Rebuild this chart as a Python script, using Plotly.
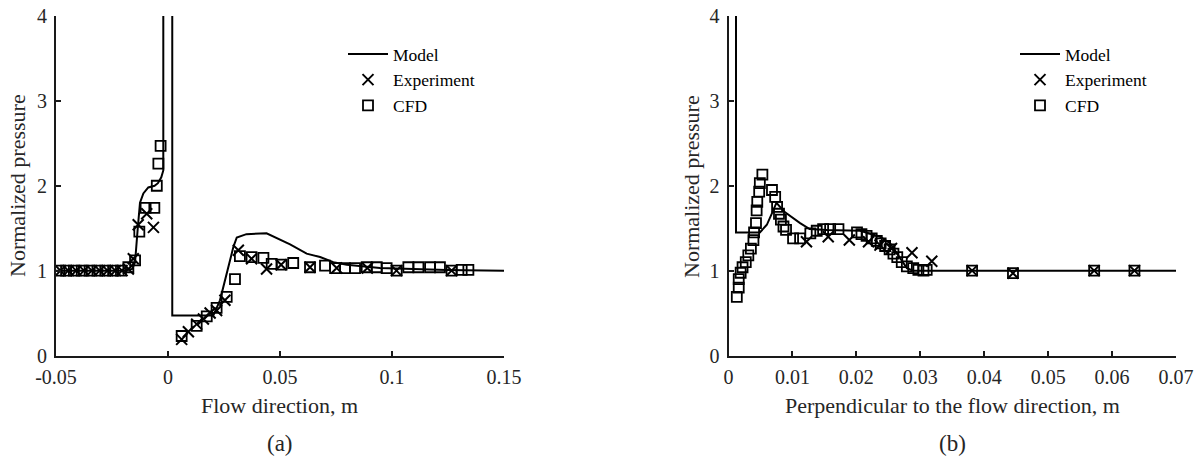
import plotly.graph_objects as go

# ---------------- data: panel (a) flow direction ----------------
model_a_x = [-0.05, -0.02, -0.016, -0.0147, -0.0135, -0.0125, -0.011, -0.0088, -0.006, -0.0045,
             -0.003, -0.0021, -0.0021, 0.0019, 0.0019, 0.0202, 0.0232, 0.0262, 0.0292, 0.0307,
             0.035, 0.044, 0.05, 0.0545, 0.0619, 0.0679, 0.0738, 0.0798, 0.0946, 0.1095, 0.1244, 0.15]
model_a_y = [1.0, 1.0, 1.02, 1.1, 1.5, 1.8, 1.91, 1.98, 2.0, 2.03,
             2.1, 2.18, 60, 60, 0.47, 0.47, 0.65, 0.97, 1.28, 1.39,
             1.43, 1.44, 1.37, 1.31, 1.20, 1.16, 1.10, 1.07, 1.03, 1.015, 1.007, 1.0]

exp_a_x = [-0.048, -0.0445, -0.041, -0.0375, -0.034, -0.0305, -0.027, -0.0235, -0.0205,
           -0.0177, -0.0155, -0.0133, -0.0095, -0.0065,
           0.0061, 0.0091, 0.0128, 0.0158, 0.0188, 0.0217, 0.0254, 0.0314, 0.0373, 0.044, 0.0505,
           0.0634, 0.0753, 0.089, 0.102, 0.1266]
exp_a_y = [1.0, 1.0, 1.0, 1.0, 1.0, 1.0, 1.0, 1.0, 1.0,
           1.02, 1.14, 1.54, 1.67, 1.51,
           0.19, 0.28, 0.37, 0.43, 0.50, 0.53, 0.65, 1.24, 1.14, 1.02, 1.07,
           1.04, 1.03, 1.03, 1.0, 1.0]

cfd_a_x = [-0.0485, -0.0455, -0.042, -0.0385, -0.035, -0.0315, -0.028, -0.0245, -0.021,
           -0.0177, -0.0147, -0.0128, -0.010, -0.0061, -0.005, -0.0043, -0.0033,
           0.0061, 0.0128, 0.0173, 0.0217, 0.0262, 0.0299, 0.0321, 0.0373, 0.0426, 0.0463, 0.0507, 0.0559,
           0.0634, 0.0701, 0.0746, 0.079, 0.0835, 0.0887, 0.0932, 0.0976, 0.1021, 0.1073, 0.1118,
           0.117, 0.1214, 0.1266, 0.1311, 0.1341]
cfd_a_y = [1.0, 1.0, 1.0, 1.0, 1.0, 1.0, 1.0, 1.0, 1.0,
           1.04, 1.12, 1.46, 1.74, 1.74, 2.0, 2.26, 2.47,
           0.23, 0.35, 0.46, 0.56, 0.69, 0.90, 1.17, 1.16, 1.15, 1.08, 1.07, 1.09,
           1.04, 1.06, 1.03, 1.03, 1.03, 1.04, 1.04, 1.03, 1.0, 1.04, 1.04,
           1.04, 1.04, 1.0, 1.01, 1.01]

# ---------------- data: panel (b) perpendicular direction ----------------
model_b_x = [0.00117, 0.00117, 0.0049, 0.006, 0.007, 0.0075, 0.0088, 0.0112, 0.0127, 0.0154,
             0.0206, 0.0237, 0.0253, 0.0268, 0.0279, 0.0289, 0.07]
model_b_y = [60, 1.45, 1.45, 1.54, 1.71, 1.80, 1.69, 1.56, 1.49, 1.48,
             1.47, 1.40, 1.32, 1.16, 1.03, 1.0, 1.0]

exp_b_x = [0.0122, 0.0156, 0.0189, 0.0219, 0.0237, 0.0255, 0.0287, 0.0318,
           0.0381, 0.0445, 0.0572, 0.0635]
exp_b_y = [1.34, 1.40, 1.36, 1.34, 1.30, 1.26, 1.21, 1.11,
           1.0, 0.97, 1.0, 1.0]

cfd_b_x = [0.0013, 0.0016, 0.0016, 0.0019, 0.0022, 0.0027, 0.0031, 0.0035, 0.0039, 0.004,
           0.0043, 0.0044, 0.0045, 0.0048, 0.0049, 0.0053, 0.0068, 0.0073, 0.0076, 0.0079,
           0.0082, 0.0086, 0.009, 0.0101, 0.0112, 0.0128, 0.0138, 0.0148, 0.0159, 0.0172,
           0.0201, 0.0208, 0.0216, 0.0224, 0.0232, 0.0238, 0.0245, 0.0252, 0.0258, 0.0264,
           0.0271, 0.0279, 0.0289, 0.0297, 0.0305, 0.031,
           0.0381, 0.0445, 0.0572, 0.0635]
cfd_b_y = [0.69, 0.80, 0.90, 0.975, 1.04, 1.10, 1.18, 1.26, 1.36, 1.45,
           1.56, 1.71, 1.81, 1.93, 2.03, 2.13, 1.95, 1.87, 1.75, 1.67,
           1.60, 1.52, 1.48, 1.38, 1.38, 1.44, 1.47, 1.49, 1.49, 1.49,
           1.45, 1.43, 1.41, 1.38, 1.35, 1.32, 1.29, 1.25, 1.20, 1.16,
           1.10, 1.05, 1.03, 1.01, 1.0, 1.01,
           1.0, 0.97, 1.0, 1.0]

xa_ticks = [-0.05, 0, 0.05, 0.1, 0.15]
xa_text = ["-0.05", "0", "0.05", "0.1", "0.15"]
xb_ticks = [0, 0.01, 0.02, 0.03, 0.04, 0.05, 0.06, 0.07]
xb_text = ["0", "0.01", "0.02", "0.03", "0.04", "0.05", "0.06", "0.07"]
y_ticks = [0, 1, 2, 3, 4]

FONT = "Liberation Serif"
TXT = "#262626"
AX = "#1a1a1a"
W, H = 1196, 458

line_style = dict(color="black", width=2)
exp_marker = dict(symbol="x-thin-open", size=11, color="black", line=dict(color="black", width=2))
cfd_marker = dict(symbol="square-open", size=10, color="black", line=dict(color="black", width=1.8))

fig = go.Figure()
fig.add_trace(go.Scatter(x=model_a_x, y=model_a_y, mode="lines", name="Model", line=line_style,
                         xaxis="x", yaxis="y", legend="legend"))
fig.add_trace(go.Scatter(x=exp_a_x, y=exp_a_y, mode="markers", name="Experiment", marker=exp_marker,
                         xaxis="x", yaxis="y", legend="legend"))
fig.add_trace(go.Scatter(x=cfd_a_x, y=cfd_a_y, mode="markers", name="CFD", marker=cfd_marker,
                         xaxis="x", yaxis="y", legend="legend"))
fig.add_trace(go.Scatter(x=model_b_x, y=model_b_y, mode="lines", name="Model", line=line_style,
                         xaxis="x2", yaxis="y2", legend="legend2"))
fig.add_trace(go.Scatter(x=exp_b_x, y=exp_b_y, mode="markers", name="Experiment", marker=exp_marker,
                         xaxis="x2", yaxis="y2", legend="legend2"))
fig.add_trace(go.Scatter(x=cfd_b_x, y=cfd_b_y, mode="markers", name="CFD", marker=cfd_marker,
                         xaxis="x2", yaxis="y2", legend="legend2"))

def px_x(p):
    return p / W

def px_y(p):
    return 1 - p / H

axis_common = dict(showline=True, linecolor=AX, linewidth=2, ticks="inside", ticklen=5,
                   tickwidth=2, tickcolor=AX, showgrid=False, zeroline=False, automargin=False,
                   tickfont=dict(family=FONT, size=20, color=TXT), mirror=False)

y_dom = [px_y(355.5), px_y(16)]
fig.update_layout(
    width=W, height=H,
    margin=dict(l=0, r=0, t=0, b=0, pad=0, autoexpand=False),
    paper_bgcolor="white", plot_bgcolor="white",
    font=dict(family=FONT, color=TXT),
    xaxis=dict(domain=[px_x(56), px_x(504)], range=[-0.05, 0.15], tickvals=xa_ticks,
               ticktext=xa_text, anchor="y", ticklabelstandoff=2, **axis_common),
    yaxis=dict(domain=y_dom, range=[0, 4], tickvals=y_ticks, anchor="x", ticklabelstandoff=3,
               **axis_common),
    xaxis2=dict(domain=[px_x(728.5), px_x(1176)], range=[0, 0.07], tickvals=xb_ticks,
                ticktext=xb_text, anchor="y2", ticklabelstandoff=2, **axis_common),
    yaxis2=dict(domain=y_dom, range=[0, 4], tickvals=y_ticks, anchor="x2", ticklabelstandoff=3,
                **axis_common),
    legend=dict(x=px_x(343), y=px_y(36), xanchor="left", yanchor="top",
                font=dict(family=FONT, size=17.5, color="black"), bgcolor="rgba(0,0,0,0)",
                tracegroupgap=0, itemwidth=40),
    legend2=dict(x=px_x(1015), y=px_y(36), xanchor="left", yanchor="top",
                 font=dict(family=FONT, size=17.5, color="black"), bgcolor="rgba(0,0,0,0)",
                 tracegroupgap=0, itemwidth=40),
    showlegend=True,
)

ann_font = dict(family=FONT, size=22, color=TXT)
annotations = [
    dict(text="Normalized pressure", x=px_x(18), y=px_y(186), textangle=-90, font=ann_font),
    dict(text="Normalized pressure", x=px_x(692), y=px_y(186), textangle=-90, font=ann_font),
    dict(text="Flow direction, m", x=px_x(279), y=px_y(405), font=ann_font),
    dict(text="Perpendicular to the flow direction, m", x=px_x(952), y=px_y(405), font=ann_font),
    dict(text="(a)", x=px_x(280), y=px_y(443), font=dict(family=FONT, size=23, color=TXT)),
    dict(text="(b)", x=px_x(952), y=px_y(443), font=dict(family=FONT, size=23, color=TXT)),
]
for a in annotations:
    a.update(xref="paper", yref="paper", showarrow=False, xanchor="center", yanchor="middle")
fig.update_layout(annotations=annotations)

fig.write_html("out.html")
